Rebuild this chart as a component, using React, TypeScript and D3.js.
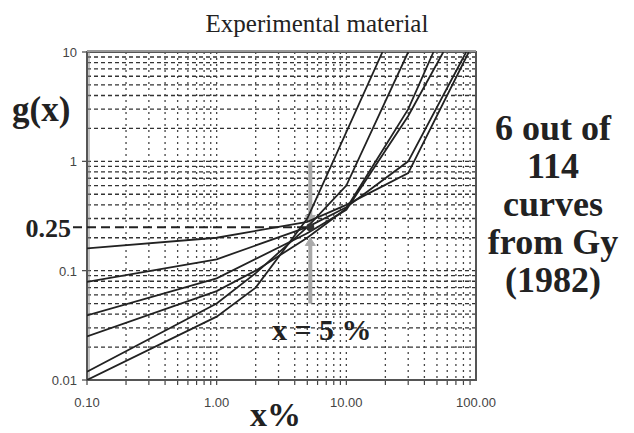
import React from "react";
import * as d3 from "d3";

const W = 634;
const H = 433;

// axis ticks
const xTicks = [0.1, 1, 10, 100];
const xTickLabels = ["0.10", "1.00", "10.00", "100.00"];
const yTicks = [0.01, 0.1, 1, 10];
const yTickLabels = ["0.01", "0.1", "1", "10"];

// 6 curves, [x %, g(x)]
const curve1 = [[0.1, 0.01], [1, 0.038], [2, 0.07], [5, 0.3], [19, 10]];
const curve2 = [[0.1, 0.0119], [1, 0.05], [2, 0.095], [5, 0.25], [10, 0.6], [30, 10]];
const curve3 = [[0.1, 0.025], [1, 0.065], [2, 0.1], [5, 0.2], [10, 0.37], [30, 3], [47, 10]];
const curve4 = [[0.1, 0.039], [1, 0.085], [5, 0.22], [10, 0.36], [30, 2.6], [56, 10]];
const curve5 = [[0.1, 0.079], [1, 0.127], [5, 0.25], [10, 0.38], [30, 1.0], [84, 10]];
const curve6 = [[0.1, 0.16], [1, 0.2], [5, 0.28], [10, 0.4], [30, 0.78], [88, 10]];
const curves = [curve1, curve2, curve3, curve4, curve5, curve6];

const markX = 5;
const markG = 0.25;

const sideText = ["6 out of", "114", "curves", "from Gy", "(1982)"];

const serif = "'Liberation Serif', 'Times New Roman', serif";
const sans = "'Liberation Sans', Arial, sans-serif";

const App = () => {
  const x = d3.scaleLog().domain([0.1, 100]).range([87, 476]);
  const y = d3.scaleLog().domain([0.01, 10]).range([380, 52]);

  const gridX: number[] = [];
  const gridY: number[] = [];
  for (let e = -1; e < 2; e++) for (let k = 1; k < 10; k++) gridX.push(k * Math.pow(10, e));
  for (let e = -2; e < 1; e++) for (let k = 1; k < 10; k++) gridY.push(k * Math.pow(10, e));

  const line = d3
    .line<number[]>()
    .x(d => x(d[0]))
    .y(d => y(d[1]));

  const [x0, x1] = x.range();
  const [y0, y1] = y.range();

  return (
    <svg width={W} height={H} style={{ position: "absolute", left: 0, top: 0, background: "#fff" }}>
      <defs>
        <clipPath id="plot">
          <rect x={x0} y={y1} width={x1 - x0} height={y0 - y1} />
        </clipPath>
      </defs>

      <text x={317} y={32} textAnchor="middle" fontFamily={serif} fontSize={25} fill="#222">
        Experimental material
      </text>

      {/* grid */}
      {gridY.map((v, i) => (
        <line key={"gy" + i} x1={x0} x2={x1} y1={y(v)} y2={y(v)}
          stroke="#333" strokeWidth={1.3} strokeDasharray="4 3" />
      ))}
      {gridX.map((v, i) => (
        <line key={"gx" + i} x1={x(v)} x2={x(v)} y1={y1} y2={y0}
          stroke="#444" strokeWidth={1.3} strokeDasharray="2 4" />
      ))}

      {/* ticks */}
      {gridX.map((v, i) => (
        <line key={"tx" + i} x1={x(v)} x2={x(v)} y1={y0} y2={y0 + 5} stroke="#444" strokeWidth={1.2} />
      ))}
      {yTicks.map((v, i) => (
        <line key={"ty" + i} x1={x0 - 5} x2={x0} y1={y(v)} y2={y(v)} stroke="#444" strokeWidth={1.2} />
      ))}

      {/* frame */}
      <rect x={x0} y={y1} width={x1 - x0} height={y0 - y1} fill="none" stroke="#555" strokeWidth={2} />
      <line x1={x0} x2={x1} y1={y1 - 1} y2={y1 - 1} stroke="#999" strokeWidth={2} />
      <line x1={x0 + 2} x2={x0 + 2} y1={y1} y2={y0} stroke="#888" strokeWidth={1} />

      {/* gray arrows at x = 5 % */}
      <g stroke="#aaa" fill="#aaa">
        <line x1={x(markX) + 3} x2={x(markX) + 3} y1={y(1)} y2={y(0.32)} strokeWidth={4} />
        <path d={`M${x(markX) - 2},${y(0.32)} L${x(markX) + 8},${y(0.32)} L${x(markX) + 3},${y(0.27)} Z`} strokeWidth={1} />
        <line x1={x(markX) + 3} x2={x(markX) + 3} y1={y(0.05)} y2={y(0.17)} strokeWidth={4} />
        <path d={`M${x(markX) - 2},${y(0.17)} L${x(markX) + 8},${y(0.17)} L${x(markX) + 3},${y(0.2)} Z`} strokeWidth={1} />
      </g>

      {/* curves */}
      <g clipPath="url(#plot)">
        {curves.map((c, i) => (
          <path key={"c" + i} d={line(c) || ""} fill="none" stroke="#222" strokeWidth={1.8} />
        ))}
      </g>

      {/* 0.25 marker */}
      <line x1={x0 - 14} x2={x(markX)} y1={y(markG)} y2={y(markG)}
        stroke="#222" strokeWidth={2} strokeDasharray="9 5" />
      <circle cx={x(markX) + 3} cy={y(markG)} r={4} fill="#333" />

      {/* tick labels */}
      {xTicks.map((v, i) => (
        <text key={"xl" + i} x={x(v)} y={407} textAnchor="middle" fontFamily={sans} fontSize={13} fill="#444">
          {xTickLabels[i]}
        </text>
      ))}
      {yTicks.map((v, i) => (
        <text key={"yl" + i} x={77} y={y(v) + 5} textAnchor="end" fontFamily={sans} fontSize={13} fill="#444">
          {yTickLabels[i]}
        </text>
      ))}

      <text x={71} y={237} textAnchor="end" fontFamily={serif} fontWeight="bold" fontSize={26} fill="#222">0.25</text>
      <text x={12} y={121} fontFamily={serif} fontWeight="bold" fontSize={35} fill="#222">g(x)</text>
      <text x={250} y={426} fontFamily={serif} fontWeight="bold" fontSize={34} fill="#222">x%</text>
      <text x={272} y={340} fontFamily={serif} fontWeight="bold" fontSize={30} fill="#222">x = 5 %</text>

      {sideText.map((t, i) => (
        <text key={"s" + i} x={553} y={140 + i * 38} textAnchor="middle" fontFamily={serif}
          fontWeight="bold" fontSize={36} fill="#222">
          {t}
        </text>
      ))}
    </svg>
  );
};

export default App;
